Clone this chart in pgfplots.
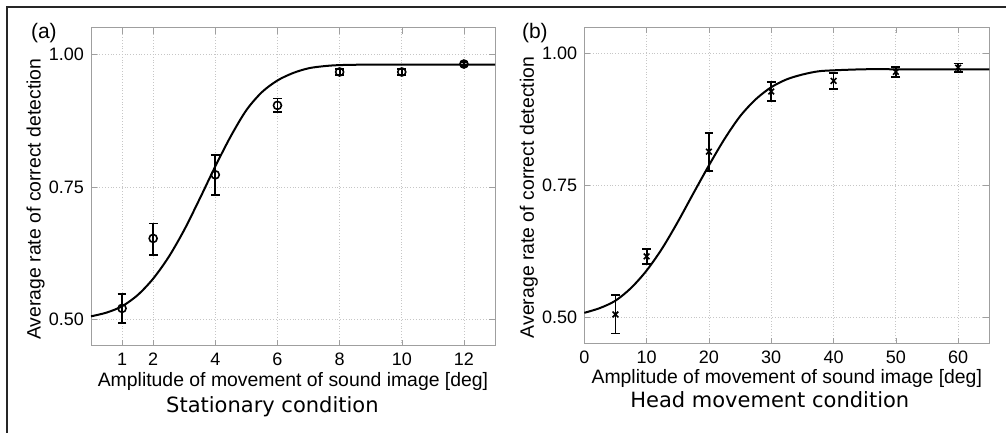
\documentclass[border=0pt]{standalone}
\usepackage{pgfplots}
\pgfplotsset{compat=1.18}
\usepackage{fontspec}
\setmainfont{Liberation Sans}
\newfontfamily\titlefont{DejaVu Sans}

\pgfplotsset{
  panel/.style={
    scale only axis,
    anchor=south west,
    clip=false,
    ymin=0.45, ymax=1.05,
    ytick={0.5,0.75,1.0},
    yticklabels={0.50,0.75,1.00},
    grid=major,
    major grid style={densely dotted, gray!45, line width=0.4pt},
    axis line style={gray!75, line width=0.5pt},
    major tick style={gray!75},
    tick align=inside,
    major tick length=3pt,
    /pgf/number format/assume math mode=true,
    ticklabel style={font=\fontsize{9}{10}\selectfont},
    label style={font=\fontsize{9.7}{11}\selectfont},
    ylabel={Average rate of correct detection},
    ylabel style={at={(axis description cs:-0.137,0.462)}, anchor=center},
    xlabel={Amplitude of movement of sound image [deg]},
  },
  fitline/.style={black, line width=1pt, smooth, no marks},
  pts/.style={black, only marks, line width=0.8pt,
    error bars/y dir=both, error bars/y explicit,
    error bars/error mark=|,
    error bars/error bar style={line width=0.9pt},
    error bars/error mark options={line width=0.9pt, mark size=2.2pt}},
}

% measured data: x, mean, error up, error down
\pgfplotstableread{
x y ep em
1  0.521 0.027 0.027
2  0.653 0.028 0.031
4  0.773 0.038 0.038
6  0.904 0.013 0.013
8  0.967 0.005 0.005
10 0.967 0.006 0.006
12 0.982 0.004 0.004
}\stationary

\pgfplotstableread{
x y ep em
5  0.506 0.037 0.036
10 0.616 0.014 0.014
20 0.814 0.036 0.036
30 0.928 0.018 0.018
40 0.948 0.015 0.015
50 0.965 0.010 0.010
60 0.973 0.008 0.008
}\headmove

\begin{document}
\begin{tikzpicture}
\path[use as bounding box] (0,0) rectangle (503pt,216.5pt);
\draw[line width=1pt, black!85] (3.5pt,0) -- (3.5pt,213pt) -- (503pt,213pt);

\node[anchor=west, font=\fontsize{10.5}{12}\selectfont] at (12pt,200pt) {(a)};
\node[anchor=west, font=\fontsize{10.5}{12}\selectfont] at (257.5pt,200pt) {(b)};

\begin{axis}[panel,
  at={(45.5pt,43.5pt)}, width=202pt, height=159pt,
  xmin=0, xmax=13,
  xtick={1,2,4,6,8,10,12},
  xlabel style={at={(axis description cs:0.5,-0.128)}, anchor=base},
]
\addplot[fitline] coordinates {
(0,0.506) (0.5,0.513) (1,0.525) (1.5,0.546) (2,0.577) (2.5,0.618)
(3,0.669) (3.5,0.728) (4,0.789) (4.5,0.846) (5,0.895) (5.5,0.929)
(6,0.951) (6.5,0.965) (7,0.974) (7.5,0.978) (8,0.980) (9,0.981)
(10,0.981) (11,0.981) (12,0.981) (13,0.981)};
\addplot[pts, mark=o, mark size=2pt]
  table[x=x, y=y, y error plus=ep, y error minus=em] {\stationary};
\node[anchor=base, font=\titlefont\fontsize{10.5}{12}\selectfont]
  at (axis description cs:0.449,-0.208) {Stationary condition};
\end{axis}

\begin{axis}[panel,
  at={(292.15pt,44.5pt)}, width=202.5pt, height=158.5pt,
  xmin=0, xmax=65,
  xtick={0,10,20,30,40,50,60},
  xlabel style={at={(axis description cs:0.5,-0.124)}, anchor=base},
]
\addplot[fitline] coordinates {
(0,0.509) (2.5,0.518) (5,0.532) (7.5,0.556) (10,0.589) (12.5,0.631)
(15,0.681) (17.5,0.735) (20,0.788) (22.5,0.838) (25,0.881) (27.5,0.913)
(30,0.936) (32.5,0.951) (35,0.960) (37.5,0.966) (40,0.968) (45,0.970)
(50,0.970) (55,0.970) (60,0.970) (65,0.970)};
\addplot[pts, mark=x, mark size=2pt]
  table[x=x, y=y, y error plus=ep, y error minus=em] {\headmove};
\node[anchor=base, font=\titlefont\fontsize{10.5}{12}\selectfont]
  at (axis description cs:0.458,-0.201) {Head movement condition};
\end{axis}
\end{tikzpicture}
\end{document}
